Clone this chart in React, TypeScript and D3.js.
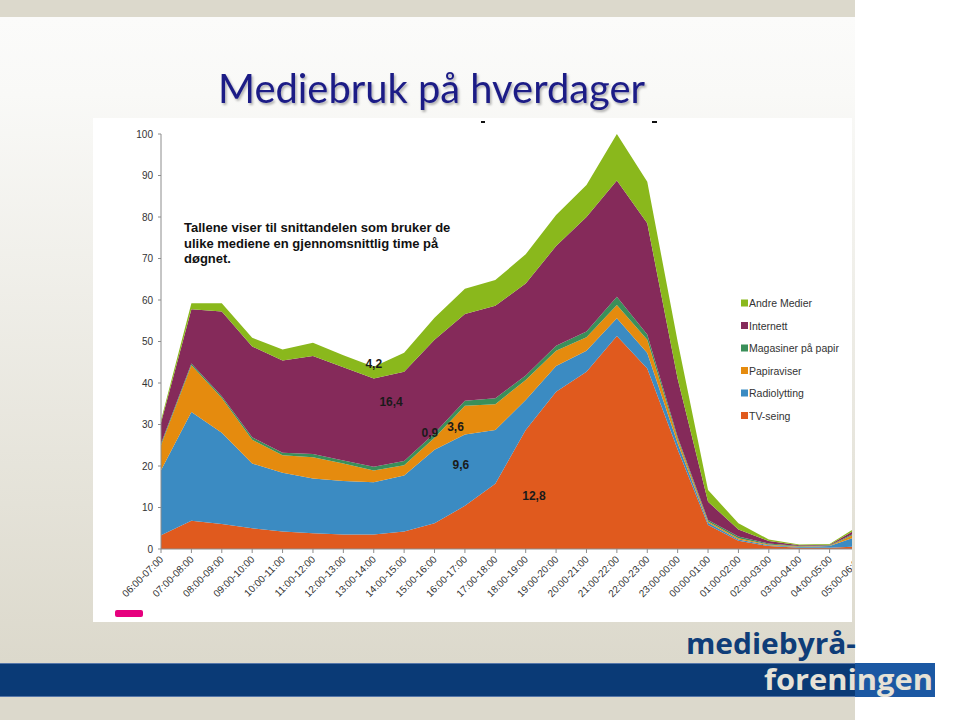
import React, { useEffect } from "react";
import * as d3 from "d3";

const categories = [
  "06:00-07:00", "07:00-08:00", "08:00-09:00", "09:00-10:00", "10:00-11:00", "11:00-12:00",
  "12:00-13:00", "13:00-14:00", "14:00-15:00", "15:00-16:00", "16:00-17:00", "17:00-18:00",
  "18:00-19:00", "19:00-20:00", "20:00-21:00", "21:00-22:00", "22:00-23:00", "23:00-00:00",
  "00:00-01:00", "01:00-02:00", "02:00-03:00", "03:00-04:00", "04:00-05:00", "05:00-06:00",
];

const tvSeing = [3.3, 6.8, 6.0, 5.0, 4.2, 3.8, 3.5, 3.5, 4.2, 6.2, 10.4, 15.7, 28.7, 37.9, 42.7, 51.3, 43.5, 24.0, 5.8, 2.0, 0.7, 0.3, 0.3, 0.6];
const radiolytting = [15.7, 26.2, 22.0, 15.6, 14.2, 13.2, 12.9, 12.6, 13.5, 17.7, 17.2, 13.0, 7.2, 6.2, 5.1, 4.3, 3.7, 1.5, 0.5, 0.3, 0.2, 0.2, 0.4, 2.7];
const papiraviser = [6.0, 11.3, 8.4, 5.7, 4.2, 5.1, 4.2, 2.8, 2.5, 2.9, 6.9, 6.2, 4.8, 3.7, 3.2, 3.2, 3.2, 1.0, 0.3, 0.3, 0.2, 0.1, 0.1, 0.8];
const magasiner = [0.4, 0.4, 0.4, 0.6, 0.6, 0.8, 0.7, 0.9, 1.0, 1.1, 1.2, 1.4, 1.1, 1.2, 1.4, 2.0, 1.3, 0.5, 0.4, 0.4, 0.2, 0.1, 0.1, 0.3];
const internett = [5.0, 13.1, 20.4, 21.9, 22.2, 23.6, 22.5, 21.3, 21.5, 22.5, 20.9, 22.3, 22.2, 24.0, 27.6, 28.0, 26.8, 14.0, 4.4, 1.7, 0.6, 0.2, 0.1, 0.9];
const andreMedier = [0.6, 1.4, 2.0, 2.1, 2.7, 3.2, 2.9, 2.8, 4.6, 5.3, 6.1, 6.2, 7.0, 7.5, 7.7, 11.2, 10.0, 9.0, 2.8, 1.5, 0.4, 0.2, 0.2, 0.5];

const seriesNames = ["TV-seing", "Radiolytting", "Papiraviser", "Magasiner på papir", "Internett", "Andre Medier"];
const seriesValues = [tvSeing, radiolytting, papiraviser, magasiner, internett, andreMedier];
const seriesColors = ["#e05a1e", "#3b8bc2", "#e58b0e", "#3a8f5a", "#852a5a", "#8ab81c"];

const yTicks = [0, 10, 20, 30, 40, 50, 60, 70, 80, 90, 100];

// value labels placed in the chart (index position along x, value along y)
const annotations = [
  { text: "4,2", idx: 7.0, value: 44.6 },
  { text: "16,4", idx: 7.57, value: 35.4 },
  { text: "0,9", idx: 8.85, value: 28.0 },
  { text: "3,6", idx: 9.69, value: 29.4 },
  { text: "9,6", idx: 9.87, value: 20.2 },
  { text: "12,8", idx: 12.27, value: 12.8 },
];

const noteLines = [
  "Tallene viser til snittandelen som bruker de",
  "ulike mediene en gjennomsnittlig time på",
  "døgnet.",
];

const W = 960;
const H = 720;

export default function App() {
  useEffect(() => {
    document.body.style.margin = "0";
  }, []);

  const x0 = 161;
  const x1 = 860;
  const yBottom = 549;
  const yTop = 134;

  const x = d3.scalePoint<string>().domain(categories).range([x0, x1]);
  const xi = d3.scaleLinear().domain([0, categories.length - 1]).range([x0, x1]);
  const y = d3.scaleLinear().domain([0, 100]).range([yBottom, yTop]);

  const rows = categories.map((c, i) => {
    const r: any = { cat: c };
    seriesNames.forEach((n, k) => (r[n] = seriesValues[k][i]));
    return r;
  });
  const stack = d3.stack<any>().keys(seriesNames);
  const layers = stack(rows);
  const area = d3
    .area<any>()
    .x((d) => x(d.data.cat) as number)
    .y0((d) => y(d[0]))
    .y1((d) => y(d[1]))
    .curve(d3.curveLinear);

  const font = "Liberation Sans, Arial, sans-serif";

  return (
    <svg width={W} height={H} style={{ position: "absolute", left: 0, top: 0, display: "block" }}>
      <defs>
        <linearGradient id="slideBg" gradientUnits="userSpaceOnUse" x1="0" y1="17" x2="0" y2="662">
          <stop offset="0" stopColor="#fbfbfa" />
          <stop offset="0.12" stopColor="#f9f9f7" />
          <stop offset="1" stopColor="#dcd9cc" />
        </linearGradient>
        <clipPath id="panelClip">
          <rect x={93} y={118} width={759} height={504} />
        </clipPath>
        <filter id="titleShadow" x="-5%" y="-20%" width="110%" height="150%">
          <feDropShadow dx="1.5" dy="2" stdDeviation="1.2" floodColor="#000" floodOpacity="0.3" />
        </filter>
      </defs>

      {/* slide background */}
      <rect x={0} y={0} width={W} height={H} fill="#ffffff" />
      <rect x={0} y={0} width={855} height={H} fill="url(#slideBg)" />
      <rect x={0} y={0} width={855} height={17} fill="#dcd9cc" />
      <rect x={0} y={662} width={855} height={58} fill="#dcd9cc" />
      <rect x={0} y={663} width={855} height={34} fill="#0a3a76" />
      <rect x={855} y={663} width={80} height={34} fill="#1b58a3" />
      <rect x={0} y={663} width={855} height={1} fill="#5676a8" />
      <rect x={0} y={696} width={855} height={1} fill="#5676a8" />

      {/* title */}
      <text
        x={218}
        y={103}
        fontFamily="Lato, 'Open Sans', sans-serif"
        fontSize={40}
        fill="#1e1e86"
        textLength={427}
        lengthAdjust="spacingAndGlyphs"
        filter="url(#titleShadow)"
      >
        Mediebruk på hverdager
      </text>

      {/* chart panel */}
      <rect x={93} y={118} width={759} height={504} fill="#ffffff" />
      <g clipPath="url(#panelClip)">
        {layers.map((layer, k) => (
          <path key={seriesNames[k]} d={area(layer) as string} fill={seriesColors[k]} />
        ))}

        {/* y axis */}
        <line x1={x0} x2={x0} y1={y(100)} y2={y(0)} stroke="#8c8c8c" strokeWidth={1} />
        {yTicks.map((t) => (
          <g key={t}>
            <line x1={x0 - 3} x2={x0} y1={y(t)} y2={y(t)} stroke="#8c8c8c" />
            <text x={x0 - 8} y={y(t) + 3.5} textAnchor="end" fontFamily={font} fontSize={10} fill="#333">
              {t}
            </text>
          </g>
        ))}

        {/* x axis */}
        <line x1={x0} x2={x1} y1={y(0)} y2={y(0)} stroke="#8c8c8c" />
        {categories.map((c) => (
          <g key={c}>
            <line x1={x(c)!} x2={x(c)!} y1={y(0)} y2={y(0) + 4} stroke="#8c8c8c" />
            <text
              transform={`translate(${(x(c) as number) + 3},${y(0) + 11}) rotate(-45)`}
              textAnchor="end"
              fontFamily={font}
              fontSize={10}
              fill="#333"
            >
              {c}
            </text>
          </g>
        ))}

        {/* annotations */}
        {annotations.map((a) => (
          <text
            key={a.text}
            x={xi(a.idx)}
            y={y(a.value) + 4}
            textAnchor="middle"
            fontFamily={font}
            fontSize={12}
            fontWeight="bold"
            fill="#1a1a1a"
          >
            {a.text}
          </text>
        ))}

        {/* note */}
        {noteLines.map((l, i) => (
          <text key={i} x={184} y={232 + i * 15.5} fontFamily={font} fontSize={13} fontWeight="bold" fill="#111">
            {l}
          </text>
        ))}

        {/* legend */}
        {seriesNames
          .map((n, k) => ({ n, k }))
          .reverse()
          .map(({ n, k }, j) => (
            <g key={n} transform={`translate(741,${303 + j * 22.5})`}>
              <rect x={0} y={-3.5} width={7} height={7} fill={seriesColors[k]} />
              <text x={8} y={4} fontFamily={font} fontSize={10.5} fill="#333">
                {n}
              </text>
            </g>
          ))}

        {/* small artifacts */}
        <rect x={481} y={121} width={4} height={2} fill="#111" />
        <rect x={652} y={121} width={5} height={2} fill="#111" />
        <rect x={115} y={610} width={28} height={7} rx={2} fill="#e6007e" />
      </g>

      {/* logo */}
      <text
        x={686}
        y={654}
        fontFamily="'Open Sans', 'DejaVu Sans', sans-serif"
        fontWeight="bold"
        fontSize={28}
        fill="#0f3d78"
        textLength={170}
        lengthAdjust="spacingAndGlyphs"
      >
        mediebyrå-
      </text>
      <text
        x={764}
        y={690}
        fontFamily="'Open Sans', 'DejaVu Sans', sans-serif"
        fontWeight="bold"
        fontSize={28}
        fill="#e6e2d6"
        textLength={169}
        lengthAdjust="spacingAndGlyphs"
      >
        foreningen
      </text>
    </svg>
  );
}
